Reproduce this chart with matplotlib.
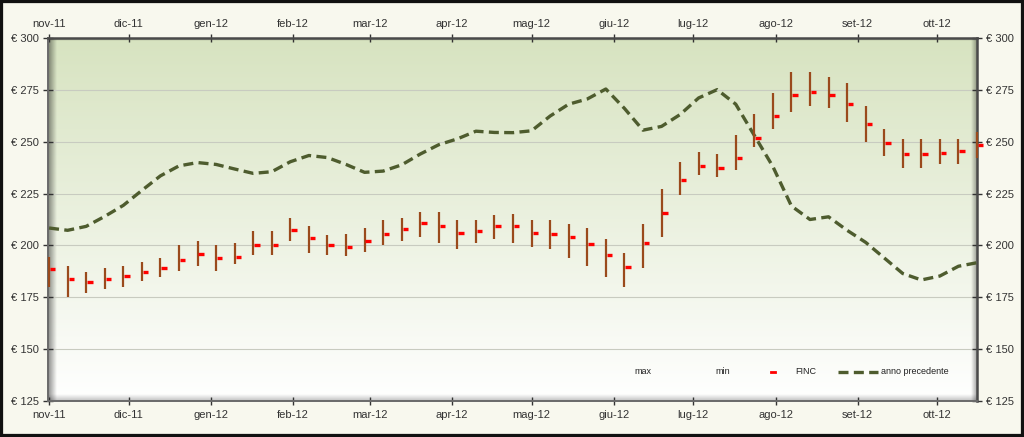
import numpy as np
import pandas as pd
import matplotlib
matplotlib.use("Agg")
import matplotlib.pyplot as plt
from matplotlib.patches import Rectangle
from matplotlib.ticker import FixedLocator, FuncFormatter
from matplotlib.lines import Line2D
import matplotlib.dates as mdates

plt.rcParams['font.family'] = ['Liberation Sans', 'DejaVu Sans']

# ---------------- data ----------------
start_date = "2011-11-01"
n_weeks = 51
week_dates = pd.date_range(start_date, periods=n_weeks, freq="7D")

high = [194.3, 190.1, 187.4, 189.0, 190.1, 192.2, 194.2, 200.1, 202.2, 200.1,
        201.4, 207.1, 207.1, 213.2, 209.4, 205.2, 205.3, 208.3, 212.3, 213.1,
        216.1, 216.1, 212.3, 212.3, 214.5, 215.2, 212.3, 212.3, 210.3, 208.3,
        203.1, 196.2, 210.4, 227.4, 240.0, 245.0, 244.0, 253.0, 263.1, 273.2,
        283.3, 283.3, 281.2, 278.4, 267.1, 256.1, 251.1, 251.1, 251.1, 251.1,
        254.6]
low = [179.9, 175.1, 177.0, 178.9, 180.2, 183.1, 185.0, 187.9, 190.1, 187.9,
       191.1, 195.3, 195.3, 202.0, 196.2, 195.3, 195.1, 197.0, 200.2, 202.2,
       204.1, 201.4, 198.2, 201.0, 203.1, 201.0, 199.1, 198.2, 194.0, 190.0,
       185.0, 180.0, 189.0, 204.3, 224.3, 233.9, 233.1, 236.3, 247.2, 256.1,
       264.4, 267.3, 266.3, 259.3, 250.0, 243.2, 237.1, 237.1, 239.1, 239.1,
       242.3]
finc = [188.9, 183.9, 182.3, 184.0, 185.5, 187.2, 189.0, 192.9, 196.1, 194.2,
        194.3, 200.4, 200.4, 207.5, 203.8, 200.4, 199.2, 202.3, 205.4, 207.9,
        210.7, 209.4, 205.8, 206.8, 209.4, 209.4, 206.2, 205.5, 203.9, 200.9,
        195.5, 189.8, 201.3, 215.5, 231.4, 238.1, 237.5, 242.3, 251.9, 262.3,
        272.6, 274.0, 272.6, 268.1, 258.6, 249.2, 243.9, 244.2, 244.4, 245.3,
        248.2]
anno_precedente = [208.4, 207.3, 209.2, 214.0, 219.3, 226.5, 233.5, 238.3, 239.9, 239.0,
                   236.8, 234.7, 235.5, 240.3, 243.3, 242.3, 239.0, 235.2, 235.8, 238.8,
                   244.0, 248.5, 251.3, 255.0, 254.4, 254.3, 255.2, 262.3, 268.0, 270.5,
                   275.3, 266.0, 255.5, 257.3, 263.0, 271.0, 275.0, 268.0, 253.0, 238.0,
                   219.0, 212.5, 213.8, 207.3, 201.5, 194.0, 186.5, 183.4, 185.3, 190.0,
                   191.7]
month_names = ["gen", "feb", "mar", "apr", "mag", "giu",
               "lug", "ago", "set", "ott", "nov", "dic"]
y_ticks = [125, 150, 175, 200, 225, 250, 275, 300]

# ---------------- figure ----------------
W, H = 1024, 437
fig = plt.figure(figsize=(W / 100, H / 100), dpi=100)
fig.patch.set_facecolor("#f8f8ee")

# outer frame
fig.patches.append(Rectangle((0, 0), 1, 1, transform=fig.transFigure,
                             facecolor="none", edgecolor="#111111",
                             linewidth=4.5, zorder=10))

L, R, T, B = 48, 977, 37.7, 401.3
ax = fig.add_axes([L / W, 1 - B / H, (R - L) / W, (B - T) / H])
ax.patch.set_alpha(0)

# background gradient in plot area
grad = np.linspace(0, 1, 256)[:, None]
top_c = np.array([0.843, 0.890, 0.753])
bot_c = np.array([1.0, 1.0, 1.0])
img = top_c[None, None, :] * (1 - grad[:, :, None]) + bot_c[None, None, :] * grad[:, :, None]
ax.imshow(img, extent=[0, 1, 0, 1], transform=ax.transAxes, aspect="auto",
          zorder=-10, interpolation="bilinear")


def shadow(x0, x1, y0, y1, direction, amax):
    n = 64
    a = np.linspace(amax, 0, n)
    if direction == "right":      # dark at left, fades to right
        arr = np.zeros((1, n, 4)); arr[0, :, 3] = a
    elif direction == "left":
        arr = np.zeros((1, n, 4)); arr[0, :, 3] = a[::-1]
    elif direction == "up":       # dark at bottom
        arr = np.zeros((n, 1, 4)); arr[:, 0, 3] = a[::-1]
    else:                         # dark at top
        arr = np.zeros((n, 1, 4)); arr[:, 0, 3] = a
    ax.imshow(arr, extent=[x0, x1, y0, y1], transform=ax.transAxes,
              aspect="auto", zorder=-5, interpolation="bilinear")


pw, ph = R - L, B - T
shadow(0, 9 / pw, 0, 1, "right", 0.45)
shadow(0, 1, 0, 7 / ph, "up", 0.25)
shadow(1 - 6 / pw, 1, 0, 1, "left", 0.35)
shadow(0, 1, 1 - 3 / ph, 1, "down", 0.3)

x = mdates.date2num(week_dates)

# grid
for v in y_ticks[1:-1]:
    ax.axhline(v, color="#c8cbc0", lw=0.8, zorder=1)

# previous year dashed line
ax.plot(x, anno_precedente, color="#4e5c2e", lw=2.4, ls=(0, (3.0, 1.6)),
        zorder=3, solid_capstyle="butt", dash_capstyle="butt",
        solid_joinstyle="round", dash_joinstyle="round")

# high-low bars and close ticks
ax.vlines(x, low, high, color="#9a4a1c", lw=1.6, zorder=4, clip_on=False)
ax.hlines(finc, x + 0.35, x + 2.4, color="#ff0000", lw=2.4, zorder=5, clip_on=False)

# axes limits
x0 = mdates.date2num(pd.Timestamp(start_date)) - 0.4
ax.set_xlim(x0, x0 + 350.4)
ax.set_ylim(125, 300)

# ticks
ax.xaxis.set_major_locator(mdates.MonthLocator())
ax.xaxis.set_major_formatter(FuncFormatter(
    lambda v, p: f"{month_names[mdates.num2date(v).month - 1]}-{mdates.num2date(v).year % 100:02d}"))
ax.yaxis.set_major_locator(FixedLocator(y_ticks))
ax.yaxis.set_major_formatter(FuncFormatter(lambda v, p: f"€ {int(v)}"))

ax.tick_params(axis="x", which="major", top=True, bottom=True,
               labeltop=True, labelbottom=True, direction="inout",
               length=6, width=1, color="#333333", labelsize=8,
               labelcolor="#333333", pad=3)
ax.tick_params(axis="y", which="major", left=True, right=True,
               labelleft=True, labelright=True, direction="inout",
               length=7, width=1, color="#333333", labelsize=8,
               labelcolor="#333333", pad=3)

for s in ["top", "right"]:
    ax.spines[s].set_color("#4a4a4a")
    ax.spines[s].set_linewidth(1.8)
for s in ["left", "bottom"]:
    ax.spines[s].set_color("#6a6a6a")
    ax.spines[s].set_linewidth(1.4)

# legend (manual)
ly = (B - 372) / ph
def fx(px):
    return (px - L) / pw
ax.text(fx(643), ly, "max", transform=ax.transAxes, fontsize=6.5,
        ha="center", va="center", color="#222222")
ax.text(fx(723), ly, "min", transform=ax.transAxes, fontsize=6.5,
        ha="center", va="center", color="#222222")
ax.add_line(Line2D([fx(771), fx(775)], [ly, ly], transform=ax.transAxes,
                   color="#ff0000", lw=2.0))
ax.text(fx(795), ly, "FINC", transform=ax.transAxes, fontsize=6.5,
        ha="left", va="center", color="#222222")
ax.add_line(Line2D([fx(838), fx(878)], [ly, ly], transform=ax.transAxes,
                   color="#4e5c2e", lw=2.4, ls=(0, (3.0, 1.6))))
ax.text(fx(881), ly, "anno precedente", transform=ax.transAxes, fontsize=6.5,
        ha="left", va="center", color="#222222")

fig.savefig("out.png", dpi=100, facecolor=fig.get_facecolor())
